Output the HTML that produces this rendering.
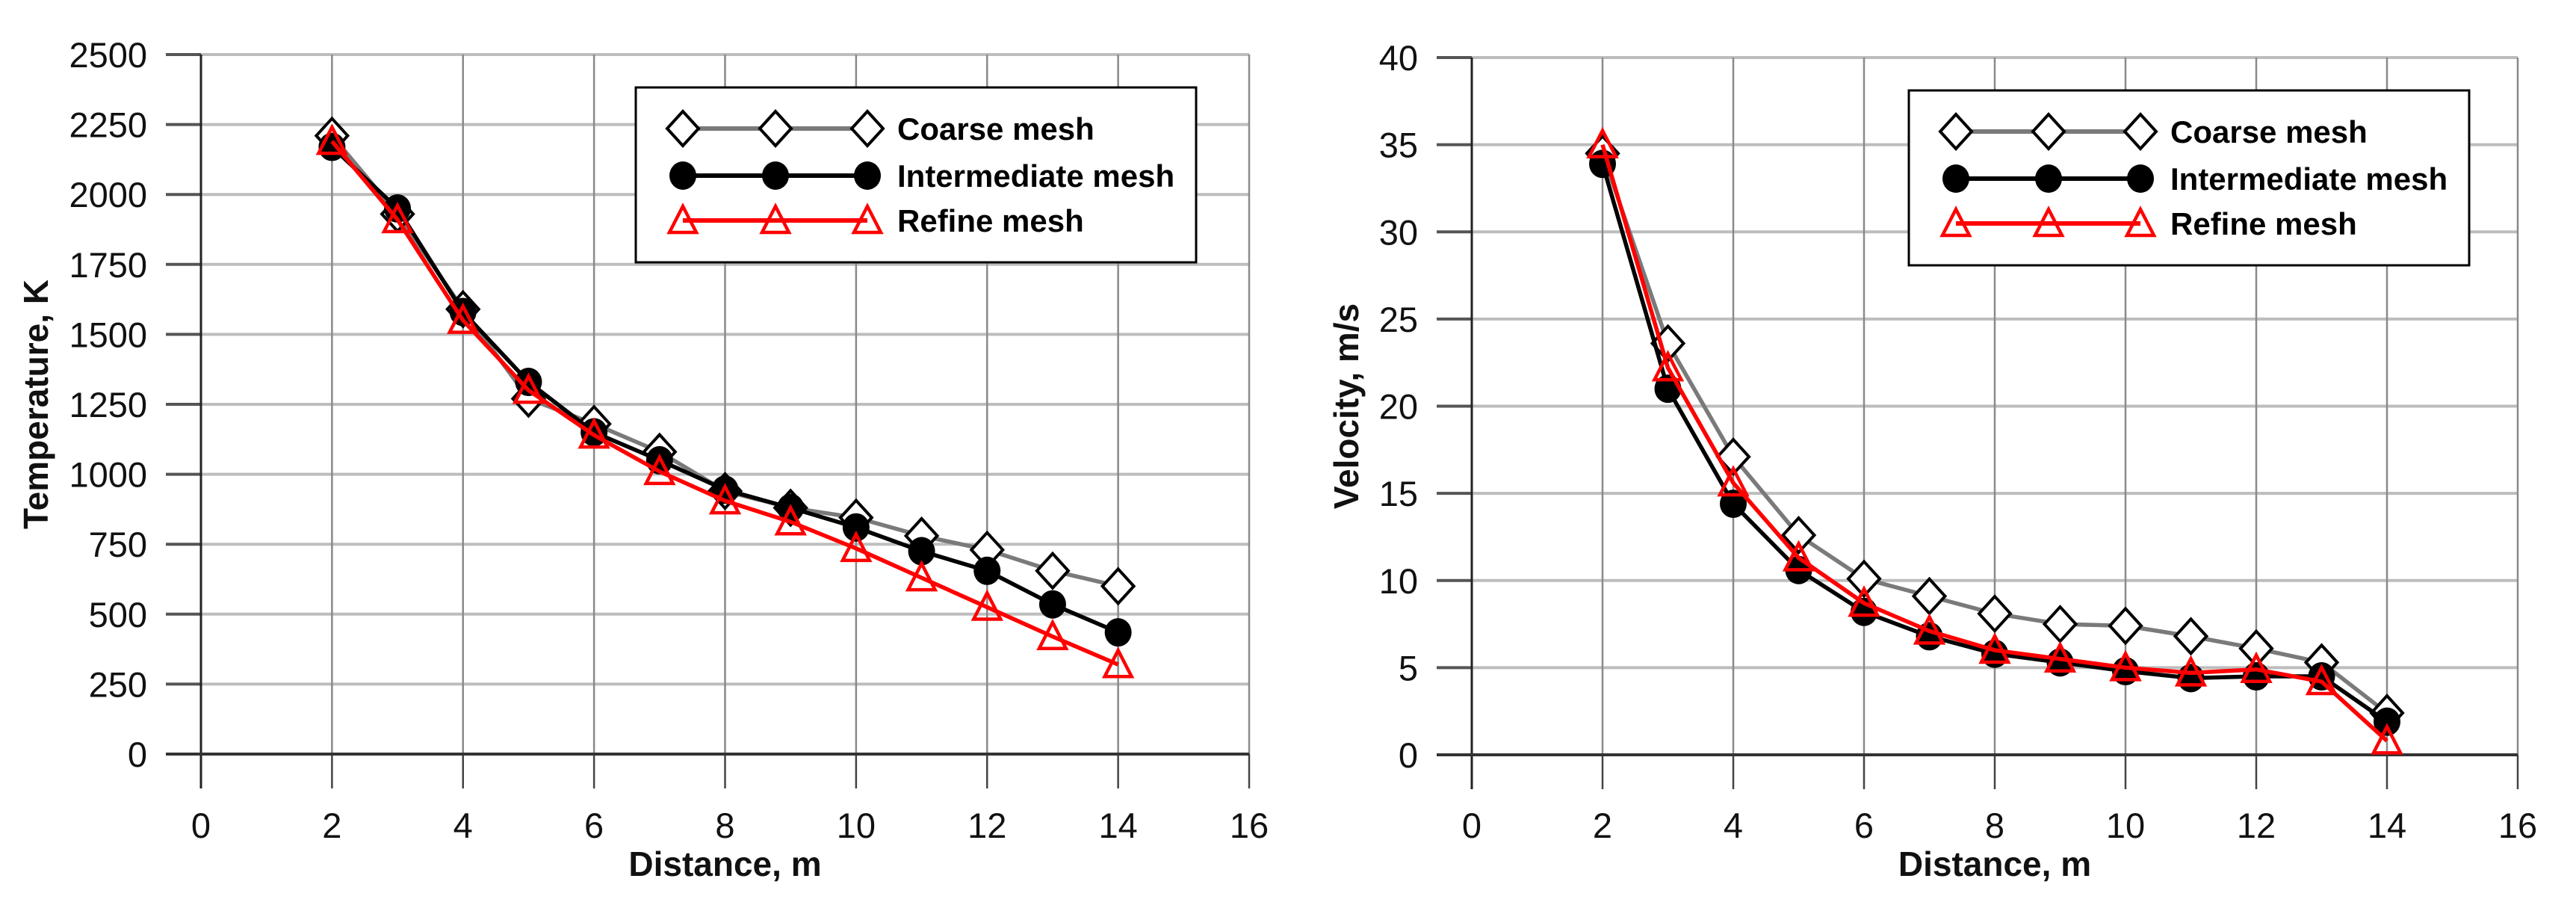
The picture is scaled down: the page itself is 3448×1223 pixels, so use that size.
<!DOCTYPE html>
<html><head><meta charset="utf-8"><style>
html,body{margin:0;padding:0;background:#fff;}
svg{display:block;}
text{font-family:"Liberation Sans Narrow","Liberation Sans",sans-serif;}
</style></head>
<body>
<svg id="fig" width="3448" height="1223" viewBox="0 0 3448 1223" xmlns="http://www.w3.org/2000/svg"></svg>
<script>
const xValues = [2,3,4,5,6,7,8,9,10,11,12,13,14];
const tempCoarse = [2210,1930,1590,1270,1180,1080,940,880,845,780,730,655,600];
const tempInter  = [2170,1950,1580,1330,1150,1050,945,880,810,725,655,535,435];
const tempRefine = [2190,1910,1550,1300,1140,1010,905,830,735,630,525,420,320];
const velCoarse = [34.5,23.6,17.1,12.6,10.1,9.1,8.1,7.5,7.4,6.8,6.1,5.3,2.4];
const velInter  = [33.9,21.0,14.4,10.6,8.2,6.8,5.8,5.3,4.8,4.4,4.5,4.5,1.9];
const velRefine = [35.0,22.2,15.6,11.3,8.7,7.1,6.0,5.5,5.0,4.7,4.9,4.2,0.8];
const xTicks = [0,2,4,6,8,10,12,14,16];
const tempTicks = [0,250,500,750,1000,1250,1500,1750,2000,2250,2500];
const velTicks = [0,5,10,15,20,25,30,35,40];
const legendLabels = ["Coarse mesh","Intermediate mesh","Refine mesh"];

const NS = "http://www.w3.org/2000/svg";
const svg = document.getElementById('fig');
function mk(tag, attrs, parent){
  const e = document.createElementNS(NS, tag);
  for (const k in attrs) e.setAttribute(k, attrs[k]);
  (parent||svg).appendChild(e);
  return e;
}

function marker(g, kind, x, y){
  let m;
  if (kind === 'diamond') {
    m = mk('polygon', {points:`${x},${y-23} ${x+21},${y} ${x},${y+23} ${x-21},${y}`, fill:'#fff', stroke:'#000', 'stroke-width':4}, g);
  } else if (kind === 'circle') {
    m = mk('ellipse', {cx:x, cy:y, rx:18, ry:19, fill:'#000'}, g);
  } else {
    m = mk('polygon', {points:`${x},${y-19} ${x+18},${y+16} ${x-18},${y+16}`, fill:'none', stroke:'#f00', 'stroke-width':4.5}, g);
  }
  return m;
}

function drawChart(cfg){
  const {L,R,T,B,ymax,yTicks,series,title,id,legend} = cfg;
  const sx = v => L + (v/16)*(R-L);
  const sy = v => B - (v/ymax)*(B-T);
  const g = mk('g', {});
  
  
  yTicks.forEach(t => {
    const y = sy(t);
    if (t !== 0) {
      const gl = mk('line', {x1:L, x2:R, y1:y, y2:y, stroke:'#bdbdbd', 'stroke-width':4}, g);
      
      
    }
    const tk = mk('line', {x1:L-47, x2:L, y1:y, y2:y, stroke:'#555', 'stroke-width':4}, g);
    
    
    const lb = mk('text', {x:L-72, y:y+17, 'text-anchor':'end', 'font-size':47, fill:'#111'}, g);
    lb.textContent = t;
    
    
  });
  xTicks.forEach(t => {
    const x = sx(t);
    if (t !== 0) {
      const gl = mk('line', {x1:x, x2:x, y1:T, y2:B, stroke:'#8a8a8a', 'stroke-width':2.5}, g);
      
      
    }
    const tk = mk('line', {x1:x, x2:x, y1:B, y2:B+46, stroke:'#444', 'stroke-width':2.5}, g);
    
    
    const lb = mk('text', {x:x, y:1121, 'text-anchor':'middle', 'font-size':47, fill:'#111'}, g);
    lb.textContent = t;
    
    
  });
  const ya = mk('line', {x1:L, x2:L, y1:T, y2:B+46, stroke:'#222', 'stroke-width':3}, g);
  
  
  const xa = mk('line', {x1:L-47, x2:R, y1:B, y2:B, stroke:'#333', 'stroke-width':4}, g);
  
  

  series.forEach(s => {
    const pts = xValues.map((xv,i) => [sx(xv), sy(s.values[i])]);
    const pl = mk('polyline', {points:pts.map(p=>p.join(',')).join(' '), fill:'none', stroke:s.color, 'stroke-width':5.5, 'stroke-linejoin':'round'}, g);
    
    
    pts.forEach(p => {
      const m = marker(g, s.kind, p[0], p[1]);
      
      
    });
  });

  const lg = mk('g', {}, g);
  
  
  const box = mk('rect', {x:legend.x, y:legend.y, width:750, height:234, fill:'#fff', stroke:'#000', 'stroke-width':3}, lg);
  
  
  const rows = [55, 118, 178];
  series.forEach((s, i) => {
    const y = legend.y + rows[i];
    const mx = [legend.x+63, legend.x+187, legend.x+310];
    const ll = mk('line', {x1:mx[0], x2:mx[2], y1:y, y2:y, stroke:s.color, 'stroke-width':6}, lg);
    
    
    mx.forEach(x => {
      const m = marker(lg, s.kind, x, y);
      
      
    });
    const t = mk('text', {x:legend.x+350, y:y+15, 'font-size':42, 'font-weight':'bold', fill:'#000'}, lg);
    t.textContent = legendLabels[i];
    
    
  });

  const xt = mk('text', {x:(L+R)/2, y:1172, 'text-anchor':'middle', 'font-size':46, 'font-weight':'bold', fill:'#111'}, g);
  xt.textContent = 'Distance, m';
  
  
  const yt = mk('text', {x:0, y:0, transform:`translate(${cfg.ytx},${(T+B)/2}) rotate(-90)`, 'text-anchor':'middle', 'font-size':46, 'font-weight':'bold', fill:'#111', style:'font-family:"Liberation Sans",sans-serif'}, g);
  yt.textContent = title;
  
  
}

drawChart({id:'temperature-chart', L:269, R:1672, T:73, B:1009, ymax:2500, yTicks:tempTicks, title:'Temperature, K', ytx:64,
  legend:{x:851, y:117},
  series:[
    {name:'coarse', values:tempCoarse, color:'#7a7a7a', kind:'diamond'},
    {name:'intermediate', values:tempInter, color:'#000', kind:'circle'},
    {name:'refine', values:tempRefine, color:'#f00', kind:'triangle'}
  ]});
drawChart({id:'velocity-chart', L:1970, R:3370, T:77, B:1010, ymax:40, yTicks:velTicks, title:'Velocity, m/s', ytx:1818,
  legend:{x:2555, y:121},
  series:[
    {name:'coarse', values:velCoarse, color:'#7a7a7a', kind:'diamond'},
    {name:'intermediate', values:velInter, color:'#000', kind:'circle'},
    {name:'refine', values:velRefine, color:'#f00', kind:'triangle'}
  ]});
</script>
</body></html>
